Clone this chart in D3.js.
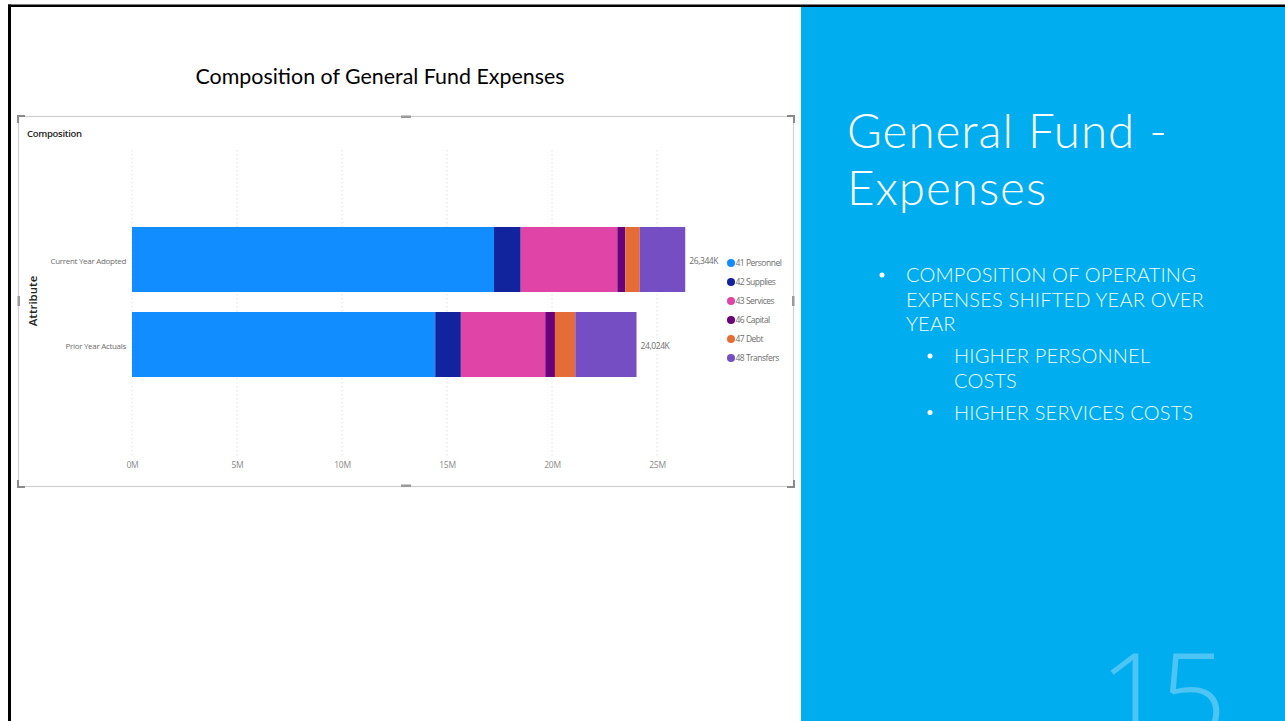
<!DOCTYPE html>
<html>
<head>
<meta charset="utf-8">
<script src="https://cdn.jsdelivr.net/npm/d3@7"></script>
<style>
  html, body { margin: 0; padding: 0; background: #ffffff; }
  svg { display: block; }
</style>
</head>
<body>
<svg id="slide" width="1285" height="721"></svg>
<script>
// Expense categories (stack order, left to right)
const categories = ["41 Personnel", "42 Supplies", "43 Services", "46 Capital", "47 Debt", "48 Transfers"];
// Rows of the chart
const attributes = ["Current Year Adopted", "Prior Year Actuals"];
// Values in millions of dollars, one per category
const currentYearAdopted = [17.24, 1.27, 4.60, 0.38, 0.69, 2.164];
const priorYearActuals   = [14.44, 1.22, 4.02, 0.46, 0.97, 2.914];
// Axis ticks (millions)
const xTicks = [0, 5, 10, 15, 20, 25];
const seriesColors = ["#118DFF", "#12239E", "#E044A7", "#6B007B", "#E66C37", "#744EC2"];
// Slide text
const headingLines = ["General Fund -", "Expenses"];
const bullets = [
  { level: 0, lines: ["COMPOSITION OF OPERATING", "EXPENSES SHIFTED YEAR OVER", "YEAR"] },
  { level: 1, lines: ["HIGHER PERSONNEL", "COSTS"] },
  { level: 1, lines: ["HIGHER SERVICES COSTS"] }
];

const svg = d3.select("#slide");

// ---------- slide frame ----------
svg.append("rect").attr("x", 801).attr("y", 6).attr("width", 484).attr("height", 715).attr("fill", "#00AEEF");
svg.append("rect").attr("x", 8).attr("y", 4.5).attr("width", 1277).attr("height", 2.5).attr("fill", "#000");
svg.append("rect").attr("x", 8).attr("y", 4.5).attr("width", 3).attr("height", 717).attr("fill", "#000");

// ---------- slide heading & bullets ----------
const head = svg.append("text").attr("y", 148).attr("fill", "#fff")
  .style("font-family", "Lato, 'Open Sans', sans-serif").style("font-weight", 300)
  .style("font-size", "47.5px").style("letter-spacing", "1px");
head.selectAll("tspan").data(headingLines).join("tspan")
  .attr("x", 847).attr("dy", (d, i) => i === 0 ? 0 : 57).text(d => d);

let by = 282;
bullets.forEach(b => {
  const bx = b.level === 0 ? 880 : 928;
  const tx = b.level === 0 ? 906 : 954;
  svg.append("circle").attr("cx", bx + 2).attr("cy", by - 7).attr("r", 2.5).attr("fill", "#fff");
  const t = svg.append("text").attr("y", by)
    .attr("fill", "#F2FAFE")
    .style("font-family", "Lato, 'Open Sans', sans-serif").style("font-weight", 300)
    .style("font-size", "20px").style("letter-spacing", "0.2px");
  t.selectAll("tspan").data(b.lines).join("tspan")
    .attr("x", tx).attr("dy", (d, i) => i === 0 ? 0 : 24.5).text(d => d);
  by += b.lines.length * 24.5 + 7.5;
});

// slide number
svg.append("text").attr("x", 1099).attr("y", 738).attr("fill", "#4CC4F4")
  .style("font-family", "'Open Sans', 'Noto Sans', sans-serif").style("font-weight", 300)
  .style("font-size", "118px").style("letter-spacing", "-7px")
  .text("15");

// ---------- chart title ----------
svg.append("text").attr("x", 380).attr("y", 84).attr("text-anchor", "middle").attr("fill", "#000")
  .style("font-family", "Lato, 'Open Sans', sans-serif").style("font-size", "21.4px")
  .text("Composition of General Fund Expenses");

// ---------- visual container ----------
const frame = svg.append("g");
frame.append("rect").attr("x", 18.5).attr("y", 116.5).attr("width", 775).attr("height", 370)
  .attr("fill", "#fff").attr("stroke", "#cfcfcf").attr("stroke-width", 1.2);
// corner marks
const corners = [
  [18, 116, 1, 1], [794, 116, -1, 1], [18, 487, 1, -1], [794, 487, -1, -1]
];
corners.forEach(([cx, cy, dx, dy]) => {
  frame.append("path")
    .attr("d", `M${cx + dx * 7},${cy} L${cx},${cy} L${cx},${cy + dy * 7}`)
    .attr("fill", "none").attr("stroke", "#8a8a8a").attr("stroke-width", 2);
});
// resize handles
[[401, 115.5, 10, 2.5], [401, 484.5, 10, 2.5], [17.5, 296, 2.5, 10], [792, 296, 2.5, 10]].forEach(h => {
  frame.append("rect").attr("x", h[0]).attr("y", h[1]).attr("width", h[2]).attr("height", h[3]).attr("fill", "#9a9a9a");
});

frame.append("text").attr("x", 27).attr("y", 137).attr("fill", "#252423")
  .style("font-family", "'Open Sans', 'Noto Sans', sans-serif").style("font-weight", 600)
  .style("font-size", "9.5px").style("letter-spacing", "-0.3px").text("Composition");

frame.append("text").attr("transform", "translate(37,301) rotate(-90)").attr("text-anchor", "middle")
  .attr("fill", "#252423")
  .style("font-family", "'Open Sans', 'Noto Sans', sans-serif").style("font-weight", 600)
  .style("font-size", "11.5px").text("Attribute");

// ---------- scales ----------
const x = d3.scaleLinear().domain([0, 30]).range([132, 762]);
const y = d3.scaleBand().domain(attributes).range([227, 377]).paddingInner(20 / 85).paddingOuter(0);

// gridlines
frame.append("g").selectAll("line").data(xTicks).join("line")
  .attr("x1", d => x(d)).attr("x2", d => x(d)).attr("y1", 150).attr("y2", 456)
  .attr("stroke", "#e2e2e2").attr("stroke-width", 1).attr("stroke-dasharray", "1.5,2.5");

// x axis
const xAxis = d3.axisBottom(x).tickValues(xTicks).tickFormat(d => d + "M").tickSize(0).tickPadding(0);
const gx = frame.append("g").attr("transform", "translate(0,462)").call(xAxis);
gx.select(".domain").remove();
gx.selectAll("text").attr("fill", "#8a8a8a").attr("dy", "0.71em")
  .style("font-family", "'Open Sans', 'Noto Sans', sans-serif").style("font-size", "8.5px").style("letter-spacing", "-0.3px");

// y axis
const yAxis = d3.axisLeft(y).tickSize(0).tickPadding(6);
const gy = frame.append("g").attr("transform", "translate(132,2)").call(yAxis);
gy.select(".domain").remove();
gy.selectAll("text").attr("fill", "#6e6e6e")
  .style("font-family", "'Open Sans', 'Noto Sans', sans-serif").style("font-size", "8px").style("letter-spacing", "-0.3px");

// ---------- stacked bars ----------
const rows = attributes.map((a, i) => {
  const vals = i === 0 ? currentYearAdopted : priorYearActuals;
  const r = { attribute: a };
  categories.forEach((c, j) => r[c] = vals[j]);
  return r;
});
const stacked = d3.stack().keys(categories)(rows);
const color = d3.scaleOrdinal().domain(categories).range(seriesColors);

frame.append("g").selectAll("g").data(stacked).join("g")
  .attr("fill", d => color(d.key))
  .selectAll("rect").data(d => d).join("rect")
  .attr("x", d => x(d[0]))
  .attr("y", d => y(d.data.attribute))
  .attr("width", d => x(d[1]) - x(d[0]))
  .attr("height", y.bandwidth());

// totals
const fmt = d3.format(",.0f");
frame.append("g").selectAll("text").data(rows).join("text")
  .attr("x", d => x(d3.sum(categories, c => d[c])) + 4)
  .attr("y", d => y(d.attribute) + y.bandwidth() / 2 + 1.5)
  .attr("dy", "0.35em").attr("fill", "#6e6e6e")
  .style("font-family", "'Open Sans', 'Noto Sans', sans-serif").style("font-size", "8.5px").style("letter-spacing", "-0.4px")
  .text(d => fmt(d3.sum(categories, c => d[c]) * 1000) + "K");

// legend
const legend = frame.append("g").selectAll("g").data(categories).join("g")
  .attr("transform", (d, i) => `translate(731,${263 + i * 19})`);
legend.append("circle").attr("r", 4).attr("fill", d => color(d));
legend.append("text").attr("x", 4.5).attr("dy", "0.35em").attr("fill", "#6e6e6e")
  .style("font-family", "'Open Sans', 'Noto Sans', sans-serif").style("font-size", "8.5px").style("letter-spacing", "-0.5px")
  .text(d => d);
</script>
</body>
</html>
